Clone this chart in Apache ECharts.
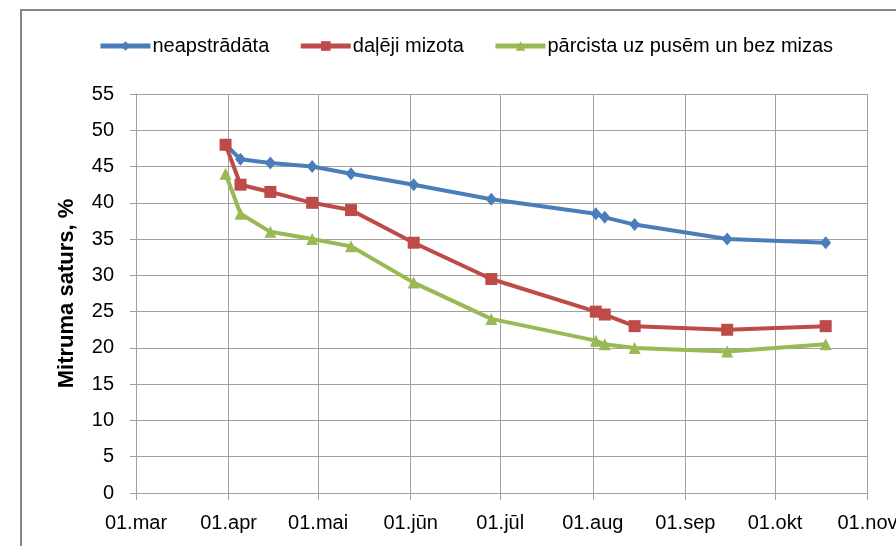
<!DOCTYPE html>
<html>
<head>
<meta charset="utf-8">
<script src="https://cdn.jsdelivr.net/npm/echarts@6/dist/echarts.min.js"></script>
<style>
  html, body { margin: 0; padding: 0; background: #fff; }
  #chart { width: 896px; height: 546px; }
</style>
</head>
<body>
<div id="chart"></div>
<script>
// Measurement dates
const dates = [
  '2011-03-31', '2011-04-05', '2011-04-15', '2011-04-29', '2011-05-12', '2011-06-02',
  '2011-06-28', '2011-08-02', '2011-08-05', '2011-08-15', '2011-09-15', '2011-10-18'
];
// Moisture content, %
const neapstradata = [48, 46, 45.5, 45, 44, 42.5, 40.5, 38.5, 38, 37, 35, 34.5];
const dalejiMizota = [48, 42.5, 41.5, 40, 39, 34.5, 29.5, 25, 24.6, 23, 22.5, 23];
const parcista = [44, 38.5, 36, 35, 34, 29, 24, 21, 20.5, 20, 19.5, 20.5];

const seriesNames = ['neapstrādāta', 'daļēji mizota', 'pārcista uz pusēm un bez mizas'];
const monthNames = ['jan', 'feb', 'mar', 'apr', 'mai', 'jūn', 'jūl', 'aug', 'sep', 'okt', 'nov', 'dec'];

const FONT = '"Liberation Sans", Arial, sans-serif';
const GRID_COLOR = '#a0a0a0';

function pairs(vals) {
  return dates.map((d, i) => [d, vals[i]]);
}

function lineSeries(name, vals, color, symbol, size) {
  return {
    name: name,
    type: 'line',
    data: pairs(vals),
    symbol: symbol,
    symbolSize: size,
    showAllSymbol: true,
    lineStyle: { color: color, width: 4 },
    itemStyle: { color: color, borderWidth: 0 },
    emphasis: { disabled: true },
    animation: false
  };
}

const chart = echarts.init(document.getElementById('chart'));
chart.setOption({
  backgroundColor: '#fff',
  animation: false,
  graphic: [{
    type: 'rect',
    shape: { x: 21, y: 10, width: 1000, height: 1000 },
    style: { fill: 'none', stroke: '#868686', lineWidth: 2 },
    silent: true,
    z: -10
  }],
  legend: {
    data: seriesNames,
    left: 93,
    top: 31,
    itemWidth: 50,
    itemHeight: 12,
    itemGap: 29,
    lineStyle: { width: 5 },
    textStyle: { fontFamily: FONT, fontSize: 20, color: '#000', padding: [0, 0, 0, -3] }
  },
  grid: { left: 136, right: 28.5, top: 94, bottom: 53, containLabel: false, outerBoundsMode: 'none' },
  xAxis: {
    type: 'time',
    min: '2011-03-01',
    max: '2011-11-01',
    minInterval: 28 * 86400000,
    maxInterval: 31 * 86400000,
    splitNumber: 8,
    axisLine: { show: true, lineStyle: { color: GRID_COLOR, width: 1 } },
    axisTick: { show: true, length: 7, lineStyle: { color: GRID_COLOR } },
    splitLine: { show: true, lineStyle: { color: GRID_COLOR, width: 1 } },
    axisLabel: {
      fontFamily: FONT, fontSize: 20, color: '#000', margin: 20,
      showMinLabel: true, showMaxLabel: true, hideOverlap: false,
      formatter: function (v) {
        const d = new Date(v);
        return '01.' + monthNames[d.getMonth()];
      }
    }
  },
  yAxis: {
    type: 'value',
    min: 0,
    max: 55,
    interval: 5,
    name: 'Mitruma saturs, %',
    nameLocation: 'middle',
    nameGap: 58,
    nameRotate: 90,
    nameTextStyle: { fontFamily: FONT, fontSize: 22, fontWeight: 'bold', color: '#000' },
    axisLine: { show: true, lineStyle: { color: GRID_COLOR, width: 1 } },
    axisTick: { show: true, length: 6, lineStyle: { color: GRID_COLOR } },
    splitLine: { show: true, lineStyle: { color: GRID_COLOR, width: 1 } },
    axisLabel: { fontFamily: FONT, fontSize: 20, color: '#000', margin: 22 }
  },
  series: [
    lineSeries(seriesNames[0], neapstradata, '#4a7ebb', 'diamond', [11, 13]),
    lineSeries(seriesNames[1], dalejiMizota, '#be4b48', 'rect', 12),
    lineSeries(seriesNames[2], parcista, '#98b954', 'triangle', 12)
  ]
});
</script>
</body>
</html>
